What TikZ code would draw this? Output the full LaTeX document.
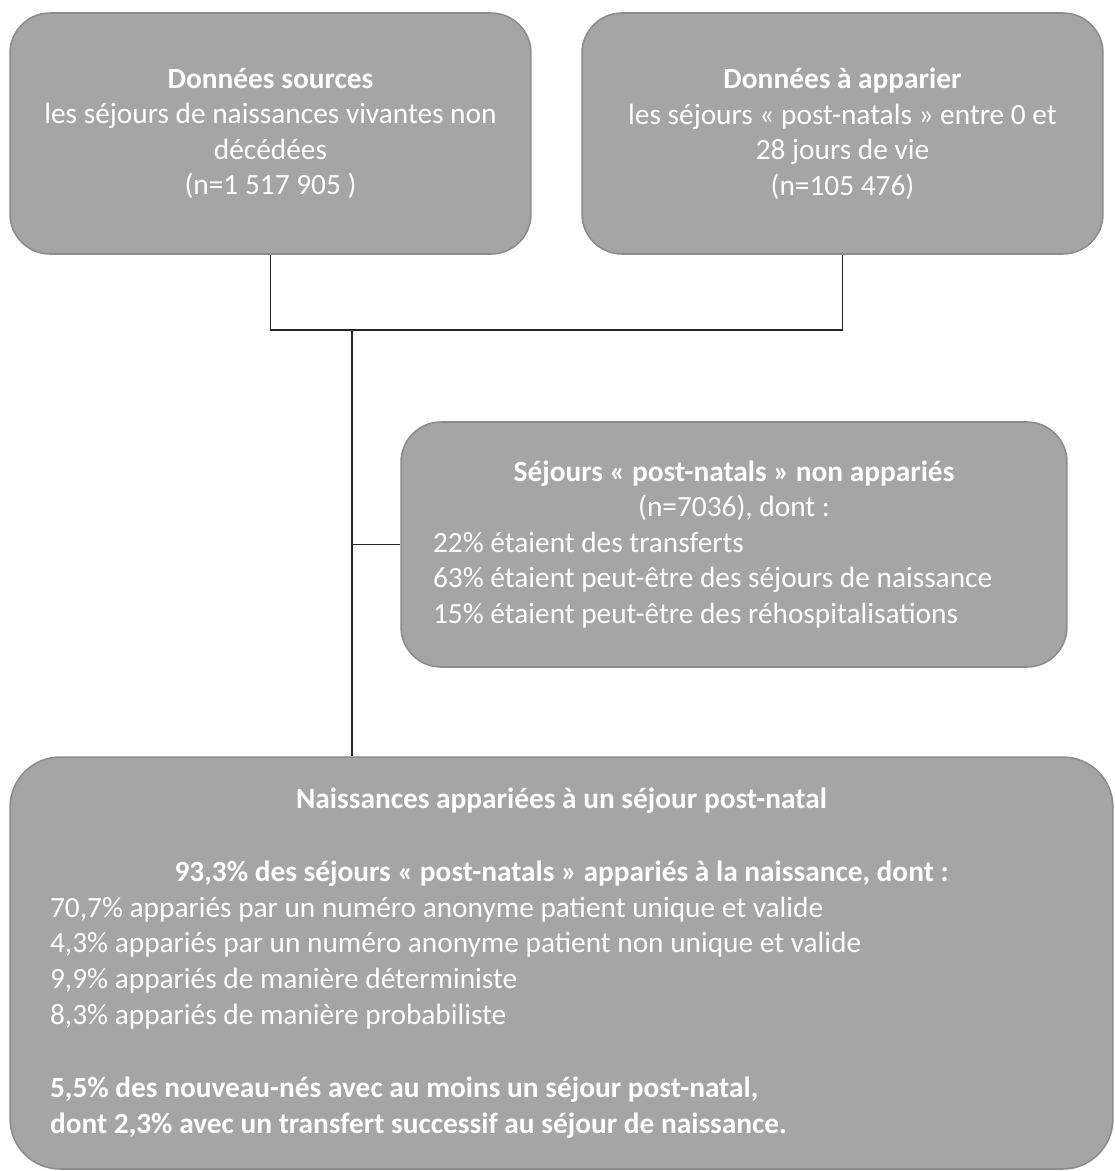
\documentclass[tikz,border=0pt]{standalone}
\usepackage{fontspec}
\setmainfont{Carlito}
\usepackage{tikz}

\definecolor{boitegris}{HTML}{A5A5A5}
\definecolor{boitebord}{HTML}{8C8C8C}
\newcommand{\ligneC}[1]{\leavevmode\hbox to\hsize{\hfil#1\hfil}}
\tikzset{
  boite/.style={draw=boitebord, line width=0.9pt, fill=boitegris, text=white,
    rounded corners=0.8cm, inner sep=0pt,
    font=\fontsize{16.7}{20.2}\selectfont,
    execute at begin node={\spaceskip=0pt\xspaceskip=0pt}},
  ligne/.style={draw=black!85, line width=0.7pt},
}

\begin{document}
\begin{tikzpicture}[x=0.02cm,y=-0.02cm]

                \useasboundingbox (0,0) rectangle (1115,1171); %cadre

                \node[boite, minimum width=10.42cm, minimum height=4.82cm, align=center] (A) at (270.5,133.5)
                  {\textbf{Données sources}\\les séjours de naissances vivantes non\\décédées\\(n=1 517 905 )}; %sources
                \node[boite, minimum width=10.42cm, minimum height=4.82cm, align=center] (B) at (842.5,133.5)
                  {\textbf{Données à apparier}\\les séjours « post-natals » entre 0 et\\28 jours de vie\\(n=105 476)}; %a apparier
                \node[boite, minimum width=13.32cm, minimum height=4.9cm, text width=12.04cm, align=left] (C) at (734,544.5)
                  {\ligneC{\textbf{Séjours « post-natals » non appariés}}\\
                   \ligneC{(n=7036), dont :}\\
                   22\% étaient des transferts\\
                   63\% étaient peut-être des séjours de naissance\\
                   15\% étaient peut-être des réhospitalisations}; %non apparies
                \node[boite, rounded corners=1cm, font=\fontsize{16.7}{20.3}\selectfont, minimum width=22.06cm, minimum height=8.24cm, text width=20.46cm, align=left] (D) at (561.5,963)
                  {\ligneC{\textbf{Naissances appariées à un séjour post-natal}}\\[21.5pt]
                   \ligneC{\textbf{93,3\% des séjours « post-natals » appariés à la naissance, dont :}}\\
                   70,7\% appariés par un numéro anonyme patient unique et valide\\
                   4,3\% appariés par un numéro anonyme patient non unique et valide\\
                   9,9\% appariés de manière déterministe\\
                   8,3\% appariés de manière probabiliste\\[21.5pt]
                   \textbf{5,5\% des nouveau-nés avec au moins un séjour post-natal,}\\
                   \textbf{dont 2,3\% avec un transfert successif au séjour de naissance.}}; %apparies

                \coordinate (J) at (352,330); %jonction
                \draw[ligne] (A.south) |- (B.south |- J) -- (B.south);
                \draw[ligne] (J) -- (J |- D.north);
                \draw[ligne] (J |- C.west) -- (C.west);

\end{tikzpicture}
\end{document}
